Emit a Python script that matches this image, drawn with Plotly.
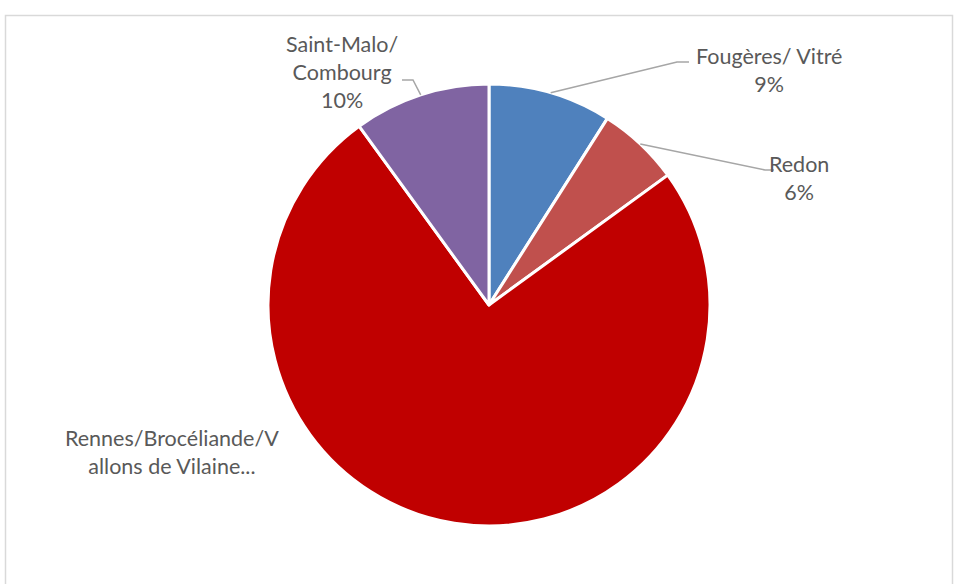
import math
import plotly.graph_objects as go

# Share of each territory (clockwise from 12 o'clock)
labels = ["Fougères/ Vitré", "Redon", "Rennes/Brocéliande/Vallons de Vilaine", "Saint-Malo/ Combourg"]
values = [9, 6, 75, 10]
colors = ["#4F81BD", "#C0504D", "#C00000", "#8064A2"]
# Text shown next to each slice (the long one is truncated, no percentage)
label_text = ["Fougères/ Vitré", "Redon", "Rennes/Brocéliande/V<br>allons de Vilaine...", "Saint-Malo/<br>Combourg"]
show_pct = [True, True, False, True]

W, H = 954, 584
CX, CY, R = 489, 305, 221

def px(x):
    return x / W

def py(y):
    return 1 - y / H

fig = go.Figure(go.Pie(
    labels=labels,
    values=values,
    sort=False,
    direction="clockwise",
    rotation=0,
    marker=dict(colors=colors, line=dict(color="white", width=3)),
    textinfo="none",
    hoverinfo="label+percent",
    showlegend=False,
    domain=dict(x=[px(CX - R), px(CX + R)], y=[py(CY + R), py(CY - R)]),
))

# Label placement (pixel centres) and leader-line elbows
label_pos = [(769, 70), (799, 178), (172, 452), (342, 72)]
elbows = [[(677, 62), (689, 62)], [(765, 170), (774, 170)], None, [(413, 80), (402, 80)]]

total = sum(values)
cum = 0
annotations = []
shapes = []
for i, v in enumerate(values):
    mid = (cum + v / 2) / total * 2 * math.pi
    cum += v
    pct = round(v / total * 100)
    txt = label_text[i] + (f"<br>{pct}%" if show_pct[i] else "")
    lx, ly = label_pos[i]
    annotations.append(dict(
        x=px(lx), y=py(ly), xref="paper", yref="paper",
        xanchor="center", yanchor="middle",
        text=txt, showarrow=False, align="center",
        font=dict(family="Lato, Open Sans, sans-serif", size=21.5, color="#595959"),
    ))
    if elbows[i]:
        sx = CX + R * math.sin(mid)
        sy = CY - R * math.cos(mid)
        pts = [(sx, sy)] + elbows[i]
        path = "M " + " L ".join(f"{px(x):.5f},{py(y):.5f}" for x, y in pts)
        shapes.append(dict(type="path", xref="paper", yref="paper", path=path,
                           line=dict(color="#A6A6A6", width=1.5)))

# Chart area frame
shapes.append(dict(type="rect", xref="paper", yref="paper",
                   x0=px(5.5), x1=px(952.5), y0=py(600), y1=py(15.5),
                   line=dict(color="#D9D9D9", width=1.5), layer="below"))

fig.update_layout(
    width=W, height=H,
    margin=dict(l=0, r=0, t=0, b=0),
    paper_bgcolor="white",
    plot_bgcolor="white",
    annotations=annotations,
    shapes=shapes,
)

fig.write_html("out.html")
